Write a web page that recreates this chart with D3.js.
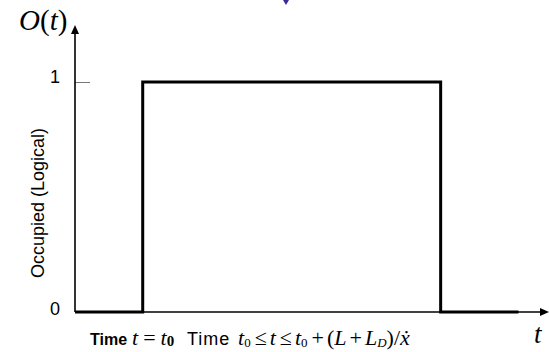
<!DOCTYPE html>
<html>
<head>
<meta charset="utf-8">
<script src="https://cdn.jsdelivr.net/npm/d3@7"></script>
<style>
  body { margin: 0; background: #fff; }
  .sans { font-family: "Liberation Sans", Arial, sans-serif; }
  .serif { font-family: "Liberation Serif", "Times New Roman", serif; }
</style>
</head>
<body>
<script>
// step signal O(t): occupied between t0 and t0 + (L+L_D)/xdot
let times = [0, 2, 10.8, 13.1]
let occupied = [0, 1, 0, 0]
let yTicks = [0, 1]

let w = 549
let h = 352
let x0 = 75, x1 = 549
let yBase = 312, yTop = 82

let svg = d3.select("body").append("svg")
    .attr("width", w)
    .attr("height", h)

let data = times.map((t, i) => ({t: t, v: occupied[i]}))

let x = d3.scaleLinear().domain([0, 14]).range([x0, x1])
let y = d3.scaleLinear().domain([0, 1]).range([yBase, yTop])

// y axis ticks + labels
let yAxis = d3.axisLeft(y)
    .tickValues(yTicks)
    .tickSize(-15)
    .tickPadding(15)
    .tickFormat(d3.format("d"))
let gy = svg.append("g")
    .attr("transform", "translate(" + x0 + ",0)")
    .call(yAxis)
gy.select(".domain").remove()
gy.selectAll(".tick line").attr("stroke", "#777").attr("stroke-width", 1)
    .attr("opacity", (d) => d === 0 ? 0 : 1)
gy.selectAll(".tick text")
    .attr("class", "sans")
    .attr("font-size", 18)
    .attr("fill", "#000")
    .attr("dy", (d) => d === 1 ? "0em" : "0.15em")

// axis lines with arrows
svg.append("line")
    .attr("x1", x0).attr("x2", x0)
    .attr("y1", yBase).attr("y2", 30)
    .attr("stroke", "#000").attr("stroke-width", 1.6)
svg.append("path")
    .attr("d", "M" + x0 + ",25L" + (x0 - 4) + ",34L" + (x0 + 4) + ",34Z")
    .attr("fill", "#000")
svg.append("line")
    .attr("x1", x0).attr("x2", x1 - 6)
    .attr("y1", yBase).attr("y2", yBase)
    .attr("stroke", "#000").attr("stroke-width", 1.6)
svg.append("path")
    .attr("d", "M" + x1 + "," + yBase + "L" + (x1 - 9) + "," + (yBase - 4) + "L" + (x1 - 9) + "," + (yBase + 4) + "Z")
    .attr("fill", "#000")

// the step signal
let line = d3.line()
    .x((d) => x(d.t))
    .y((d) => y(d.v))
    .curve(d3.curveStepAfter)
svg.append("path")
    .datum(data)
    .attr("d", line)
    .attr("fill", "none")
    .attr("stroke", "#000")
    .attr("stroke-width", 3)
    .attr("stroke-linejoin", "miter")

// y label
svg.append("text")
    .attr("class", "sans")
    .attr("font-size", 18)
    .attr("text-anchor", "middle")
    .attr("transform", "translate(44,203) rotate(-90)")
    .text("Occupied (Logical)")

// O(t)
let ot = svg.append("text")
    .attr("class", "serif")
    .attr("font-size", 29)
    .attr("x", 19).attr("y", 30)
ot.append("tspan").attr("font-style", "italic").text("O")
ot.append("tspan").text("(")
ot.append("tspan").attr("font-style", "italic").text("t")
ot.append("tspan").text(")")

// t on x axis
svg.append("text")
    .attr("class", "serif")
    .attr("font-size", 27)
    .attr("font-style", "italic")
    .attr("x", 534).attr("y", 343)
    .text("t")

// bottom annotation
let by = 345
svg.append("text")
    .attr("class", "sans")
    .attr("font-size", 16)
    .attr("font-weight", "bold")
    .attr("x", 90).attr("y", by)
    .text("Time")
let eq1 = svg.append("text")
    .attr("class", "serif")
    .attr("font-size", 22)
    .attr("x", 132).attr("y", by)
eq1.append("tspan").attr("font-style", "italic").text("t")
eq1.append("tspan").attr("dx", 5).text("=")
eq1.append("tspan").attr("dx", 5).attr("font-style", "italic").text("t")
eq1.append("tspan").attr("font-size", 15).attr("font-weight", "bold").attr("dy", 1).text("0")

svg.append("text")
    .attr("class", "sans")
    .attr("font-size", 18)
    .attr("letter-spacing", 1)
    .attr("x", 187).attr("y", by)
    .text("Time")

let eq2 = svg.append("text")
    .attr("class", "serif")
    .attr("font-size", 22)
    .attr("x", 238).attr("y", by)
eq2.append("tspan").attr("font-style", "italic").text("t")
eq2.append("tspan").attr("font-size", 13).attr("dy", 2).text("0")
eq2.append("tspan").attr("dy", -2).attr("dx", 4).text("≤")
eq2.append("tspan").attr("dx", 3).attr("font-style", "italic").text("t")
eq2.append("tspan").attr("dx", 4).text("≤")
eq2.append("tspan").attr("dx", 3).attr("font-style", "italic").text("t")
eq2.append("tspan").attr("font-size", 13).attr("dy", 2).text("0")
eq2.append("tspan").attr("dy", -2).attr("dx", 4).text("+")
eq2.append("tspan").attr("dx", 3).text("(")
eq2.append("tspan").attr("font-style", "italic").text("L")
eq2.append("tspan").attr("dx", 3).text("+")
eq2.append("tspan").attr("dx", 3).attr("font-style", "italic").text("L")
eq2.append("tspan").attr("font-size", 13).attr("dy", 2).attr("font-style", "italic").text("D")
eq2.append("tspan").attr("dy", -2).text(")/")
eq2.append("tspan").attr("font-style", "italic").text("ẋ")

// small mark at top
svg.append("path")
    .attr("d", "M283,0L289,0L286,5Z")
    .attr("fill", "#3a2a9a")
</script>
</body>
</html>
